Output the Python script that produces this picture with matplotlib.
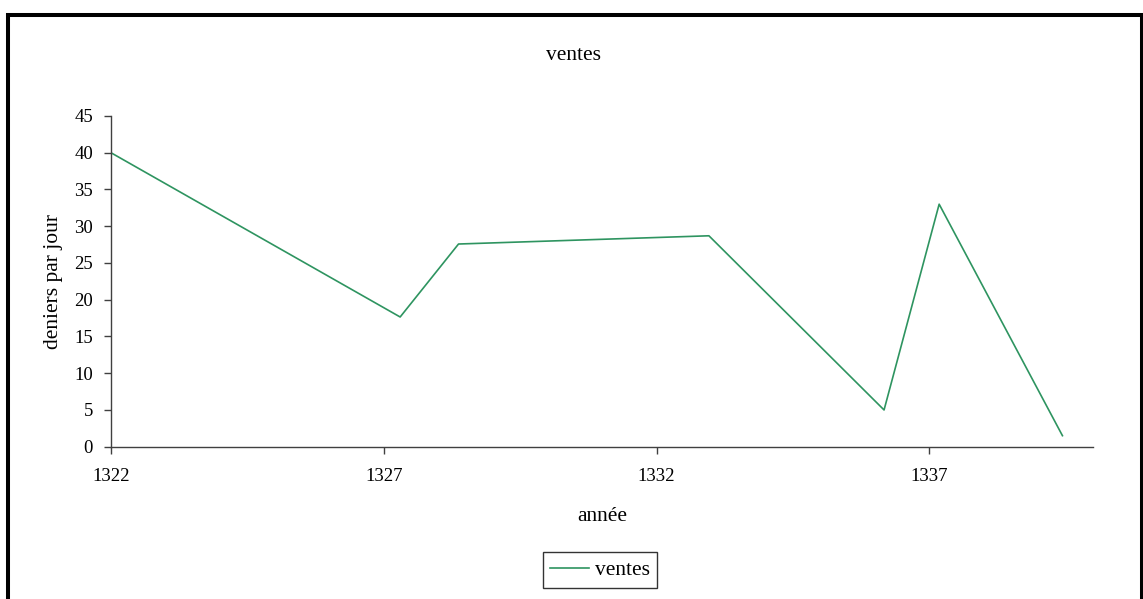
import matplotlib
matplotlib.use("Agg")
import matplotlib.pyplot as plt
from matplotlib.patches import Rectangle

# données
annees = [1322, 1327.3, 1328.37, 1332.96, 1336.17, 1337.18, 1339.44]
ventes = [40, 17.65, 27.58, 28.7, 5.0, 33.0, 1.5]
xticks = [1322, 1327, 1332, 1337]
yticks = [0, 5, 10, 15, 20, 25, 30, 35, 40, 45]

plt.rcParams['font.family'] = ['Liberation Serif', 'DejaVu Serif']

W, H = 1143, 599
fig = plt.figure(figsize=(W / 100, H / 100), dpi=100)
ax = fig.add_axes([111 / W, 1 - 446.7 / H, (1093 - 111) / W, (446.7 - 116) / H])

ax.plot(annees, ventes, color='#2E9460', lw=1.2, label='ventes')

ax.set_xlim(1322, 1340)
ax.set_ylim(0, 45)
ax.set_xticks(xticks)
ax.set_yticks(yticks)
ax.spines['top'].set_visible(False)
ax.spines['right'].set_visible(False)
for s in ('left', 'bottom'):
    ax.spines[s].set_color('#404040')
    ax.spines[s].set_linewidth(1.0)
ax.tick_params(axis='both', colors='#404040', labelcolor='black', labelsize=13.5,
               length=5, width=1.0, direction='out')
ax.tick_params(axis='x', pad=10)
ax.tick_params(axis='y', pad=8)

ax.set_xlabel('année', fontsize=15.5, labelpad=16)
ax.set_ylabel('deniers par jour', fontsize=15.5, labelpad=8)
fig.text(573 / W, 1 - 55 / H, 'ventes', ha='center', va='center', fontsize=15.5)

leg = ax.legend(loc='center', bbox_to_anchor=(600 / W, 1 - 570 / H),
                bbox_transform=fig.transFigure, fontsize=15.5, frameon=True,
                fancybox=False, edgecolor='black', handlelength=1.8,
                borderpad=0.35, handletextpad=0.25)
leg.get_frame().set_linewidth(1.0)

# cadre noir autour du graphique
fig.patches.append(Rectangle((8 / W, -0.05), (1142 - 8) / W, 1.05 - 14.7 / H,
                             transform=fig.transFigure, fill=False,
                             edgecolor='black', linewidth=2.9))

fig.savefig('out.png', dpi=100)
